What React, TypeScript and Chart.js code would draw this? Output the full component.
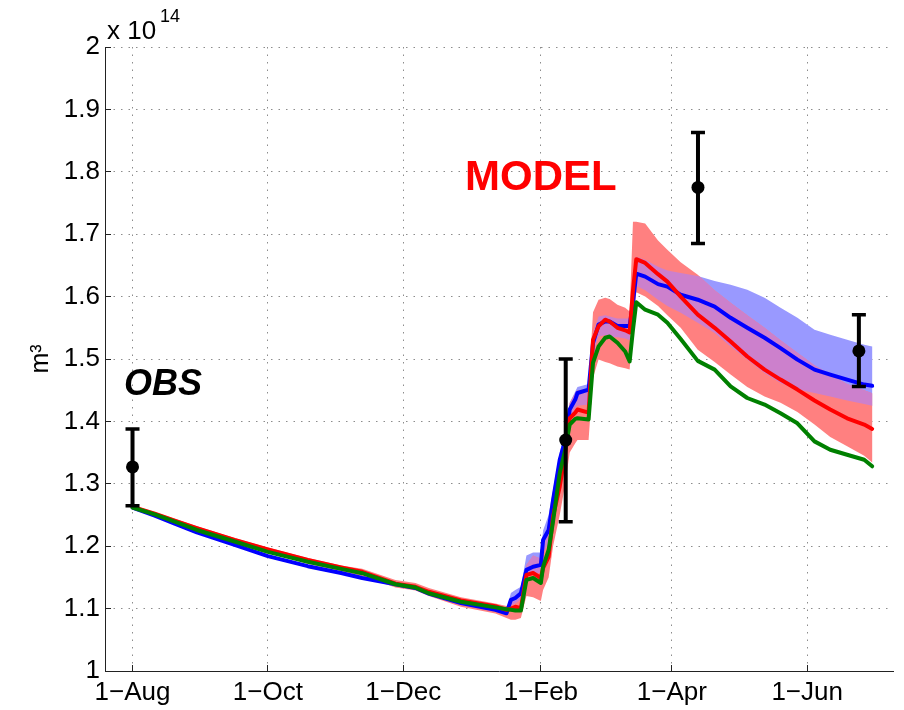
import React, { useEffect, useRef } from 'react';
import { Chart, registerables } from 'chart.js';

Chart.register(...registerables);

// Days since 1-Aug
const days = [
  0, 10, 19, 29, 46, 61, 79, 94, 103.5, 118.5, 127.5, 133.5, 148, 163.5,
  168.5, 170.5, 172.5, 175, 177.5, 180.5, 184, 185, 187.5, 189.5,
  192.5, 195, 197, 199.5, 200.5, 205.5, 207.5, 210, 213, 215,
  218.5, 222, 224, 225.5, 227, 231, 236.8, 241, 247, 254.7,
  262.3, 269.5, 277, 284.8, 292, 299.6, 307.3, 314.4, 322, 329.7, 333.3,
];

const greenLine = [
  1.262, 1.251, 1.2395, 1.226, 1.2075, 1.191, 1.175, 1.1636, 1.1567, 1.139, 1.1337, 1.1246, 1.111, 1.102,
  1.099, 1.098, 1.097, 1.0968, 1.146, 1.149, 1.141, 1.167, 1.194, 1.24,
  1.317, 1.3546, 1.395, 1.404, 1.405, 1.403, 1.494, 1.52, 1.534, 1.536,
  1.526, 1.512, 1.496, 1.547, 1.591, 1.579, 1.571, 1.558, 1.532, 1.497,
  1.483, 1.456, 1.4375, 1.427, 1.413, 1.397, 1.368, 1.3546, 1.3465, 1.3385, 1.328,
];

const blueLine = [
  1.262, 1.249, 1.236, 1.222, 1.202, 1.184, 1.168, 1.157, 1.149, 1.139, 1.133, 1.124, 1.109, 1.098,
  1.0925, 1.114, 1.117, 1.1246, 1.162, 1.167, 1.17, 1.21, 1.226, 1.274,
  1.3385, 1.3706, 1.419, 1.435, 1.4455, 1.451, 1.5256, 1.555, 1.56, 1.56,
  1.553, 1.553, 1.553, 1.59, 1.637, 1.632, 1.62, 1.616, 1.603, 1.595,
  1.584, 1.566, 1.55, 1.534, 1.5175, 1.499, 1.483, 1.475, 1.467, 1.459, 1.457,
];

const redLine = [
  1.263, 1.252, 1.241, 1.229, 1.21, 1.195, 1.178, 1.166, 1.159, 1.14, 1.135, 1.127, 1.113, 1.104,
  1.098, 1.1, 1.103, 1.1006, 1.154, 1.157, 1.149, 1.165, 1.183, 1.2476,
  1.2957, 1.349, 1.405, 1.414, 1.419, 1.414, 1.531, 1.5525, 1.563, 1.56,
  1.55, 1.546, 1.5427, 1.61, 1.66, 1.654, 1.636, 1.624, 1.6, 1.571,
  1.55, 1.528, 1.504, 1.483, 1.467, 1.451, 1.4335, 1.419, 1.405, 1.395, 1.388,
];

const blueHigh = [
  1.264, 1.251, 1.238, 1.224, 1.204, 1.186, 1.17, 1.159, 1.151, 1.141, 1.135, 1.126, 1.111, 1.1,
  1.098, 1.125, 1.13, 1.135, 1.185, 1.19, 1.19, 1.225, 1.25, 1.29,
  1.35, 1.385, 1.43, 1.448, 1.455, 1.46, 1.54, 1.568, 1.57, 1.568,
  1.565, 1.565, 1.565, 1.62, 1.664, 1.659, 1.648, 1.642, 1.638, 1.633,
  1.625, 1.619, 1.611, 1.598, 1.582, 1.566, 1.547, 1.539, 1.531, 1.523, 1.52,
];

const blueLow = [
  1.26, 1.247, 1.234, 1.22, 1.2, 1.182, 1.166, 1.155, 1.147, 1.137, 1.131, 1.122, 1.107, 1.096,
  1.09, 1.105, 1.108, 1.115, 1.15, 1.155, 1.158, 1.19, 1.205, 1.26,
  1.325, 1.355, 1.405, 1.422, 1.425, 1.427, 1.51, 1.536, 1.538, 1.536,
  1.535, 1.533, 1.53, 1.575, 1.617, 1.61, 1.595, 1.585, 1.574, 1.558,
  1.5415, 1.52, 1.499, 1.4776, 1.4616, 1.451, 1.4455, 1.44, 1.4335, 1.428, 1.425,
];

const redHigh = [
  1.266, 1.255, 1.244, 1.232, 1.213, 1.198, 1.181, 1.169, 1.164, 1.146, 1.141, 1.133, 1.118, 1.108,
  1.104, 1.11, 1.112, 1.118, 1.17, 1.185, 1.18, 1.2, 1.23, 1.28,
  1.33, 1.385, 1.43, 1.445, 1.45, 1.452, 1.575, 1.595, 1.598, 1.596,
  1.587, 1.582, 1.576, 1.72, 1.72, 1.717, 1.69, 1.675, 1.655, 1.635,
  1.61, 1.59, 1.57, 1.55, 1.53, 1.51, 1.49, 1.475, 1.46, 1.45, 1.445,
];

const redLow = [
  1.26, 1.249, 1.238, 1.226, 1.207, 1.19, 1.172, 1.16, 1.152, 1.134, 1.129, 1.12, 1.103, 1.092,
  1.085, 1.082, 1.082, 1.085, 1.12, 1.118, 1.112, 1.13, 1.15, 1.2,
  1.25, 1.3, 1.35, 1.365, 1.37, 1.37, 1.47, 1.499, 1.495, 1.493,
  1.488, 1.485, 1.483, 1.55, 1.607, 1.6, 1.585, 1.57, 1.55, 1.515,
  1.495, 1.475, 1.455, 1.44, 1.43, 1.415, 1.395, 1.375, 1.36, 1.345, 1.334,
];

const obsDays = [0, 195.2, 254.8, 327.3];
const obsValue = [1.327, 1.37, 1.775, 1.513];
const obsLow = [1.265, 1.239, 1.685, 1.456];
const obsHigh = [1.388, 1.5, 1.863, 1.571];

const xTickDays = [0, 61, 122, 184, 243, 304];
const xTickLabels = ['1\u2212Aug', '1\u2212Oct', '1\u2212Dec', '1\u2212Feb', '1\u2212Apr', '1\u2212Jun'];
const yTickValues = [1, 1.1, 1.2, 1.3, 1.4, 1.5, 1.6, 1.7, 1.8, 1.9, 2];
const yTickLabels = ['1', '1.1', '1.2', '1.3', '1.4', '1.5', '1.6', '1.7', '1.8', '1.9', '2'];

const FONT = '"Liberation Sans", Arial, Helvetica, sans-serif';

const bandPlugin = {
  id: 'bands',
  beforeDatasetsDraw(chart: any) {
    const { ctx, chartArea, scales } = chart;
    const xs = scales.x;
    const ys = scales.y;
    const bandPath = (hi: number[], lo: number[]) => {
      const p = new Path2D();
      days.forEach((d, i) => {
        const px = xs.getPixelForValue(d);
        const py = ys.getPixelForValue(hi[i]);
        if (i === 0) p.moveTo(px, py);
        else p.lineTo(px, py);
      });
      for (let i = days.length - 1; i >= 0; i--) {
        p.lineTo(xs.getPixelForValue(days[i]), ys.getPixelForValue(lo[i]));
      }
      p.closePath();
      return p;
    };
    const blue = bandPath(blueHigh, blueLow);
    const red = bandPath(redHigh, redLow);
    ctx.save();
    ctx.beginPath();
    ctx.rect(chartArea.left, chartArea.top, chartArea.right - chartArea.left, chartArea.bottom - chartArea.top);
    ctx.clip();
    ctx.fillStyle = '#9999ff';
    ctx.fill(blue);
    ctx.fillStyle = '#ff8080';
    ctx.fill(red);
    ctx.save();
    ctx.clip(blue);
    ctx.fillStyle = '#cc80cc';
    ctx.fill(red);
    ctx.restore();
    ctx.restore();
  },
};

const textPlugin = {
  id: 'texts',
  afterDraw(chart: any) {
    const { ctx } = chart;
    ctx.save();
    ctx.textBaseline = 'alphabetic';
    ctx.textAlign = 'left';
    ctx.fillStyle = '#000';
    ctx.font = `26px ${FONT}`;
    ctx.fillText('x 10', 107, 39);
    ctx.font = `18px ${FONT}`;
    ctx.fillText('14', 160, 22);
    ctx.font = `italic bold 36px ${FONT}`;
    ctx.fillText('OBS', 124, 395);
    ctx.fillStyle = '#ff0000';
    ctx.font = `bold 42px ${FONT}`;
    ctx.fillText('MODEL', 465, 190);
    ctx.restore();
  },
};

const toXY = (vals: number[]) => days.map((d, i) => ({ x: d, y: vals[i] }));

export default function App() {
  const ref = useRef<HTMLCanvasElement | null>(null);

  useEffect(() => {
    if (!ref.current) return;
    const lineDs = (label: string, vals: number[], color: string, order: number) => ({
      label,
      data: toXY(vals),
      borderColor: color,
      backgroundColor: color,
      borderWidth: 4,
      pointRadius: 0,
      tension: 0,
      fill: false,
      borderJoinStyle: 'round',
      borderCapStyle: 'round',
      order,
    });

    const errDs = obsDays.map((d, i) => ({
      label: 'obs error ' + i,
      data: [
        { x: d, y: obsLow[i] },
        { x: d, y: obsHigh[i] },
      ],
      borderColor: '#000',
      backgroundColor: '#000',
      borderWidth: 4,
      pointStyle: 'line',
      pointRadius: 7,
      pointBorderWidth: 3.5,
      pointBorderColor: '#000',
      showLine: true,
      fill: false,
      order: 1,
    }));

    const obsDs = {
      label: 'OBS',
      data: obsDays.map((d, i) => ({ x: d, y: obsValue[i] })),
      showLine: false,
      pointRadius: 6.5,
      pointBackgroundColor: '#000',
      pointBorderColor: '#000',
      pointBorderWidth: 0,
      order: 0,
    };

    const chart = new Chart(ref.current, {
      type: 'line',
      data: {
        datasets: [
          obsDs as any,
          ...(errDs as any[]),
          lineDs('green', greenLine, '#008000', 2),
          lineDs('red', redLine, '#ff0000', 3),
          lineDs('blue', blueLine, '#0000ff', 4),
        ],
      },
      options: {
        animation: false,
        responsive: false,
        events: [],
        layout: { padding: { top: 47, right: 7, left: 0, bottom: 0 } },
        plugins: {
          legend: { display: false },
          tooltip: { enabled: false },
        },
        scales: {
          x: {
            type: 'linear',
            min: -12.4,
            max: 342.9,
            afterFit: (s: any) => {
              s.height = 39;
            },
            afterBuildTicks: (s: any) => {
              s.ticks = xTickDays.map((v) => ({ value: v }));
            },
            ticks: {
              autoSkip: false,
              maxRotation: 0,
              color: '#000',
              font: { family: FONT, size: 26 },
              padding: 12,
              callback: (_v: any, i: number) => xTickLabels[i],
            },
            grid: {
              color: 'rgba(0,0,0,0.45)',
              lineWidth: 1,
              tickLength: -6,
              tickColor: '#222',
              tickWidth: 1,
            },
            border: { display: true, color: '#222', width: 1, dash: [1.5, 6] },
          },
          y: {
            type: 'linear',
            min: 1,
            max: 2,
            afterFit: (s: any) => {
              s.width = 105;
            },
            afterBuildTicks: (s: any) => {
              s.ticks = yTickValues.map((v) => ({ value: v }));
            },
            ticks: {
              autoSkip: false,
              color: '#000',
              font: { family: FONT, size: 26 },
              padding: 11,
              callback: (_v: any, i: number) => yTickLabels[i],
            },
            grid: {
              color: 'rgba(0,0,0,0.45)',
              lineWidth: 1,
              tickLength: -6,
              tickColor: '#222',
              tickWidth: 1,
            },
            border: { display: true, color: '#222', width: 1, dash: [1.5, 6] },
            title: {
              display: true,
              text: 'm\u00b3',
              color: '#000',
              font: { family: FONT, size: 25 },
              padding: { top: 26, bottom: 0 },
            },
          },
        },
      } as any,
      plugins: [bandPlugin, textPlugin],
    });
    return () => chart.destroy();
  }, []);

  return (
    <div style={{ position: 'fixed', left: 0, top: 0, width: 904, height: 710, background: '#fff' }}>
      <canvas ref={ref} width={904} height={710} style={{ display: 'block' }} />
    </div>
  );
}
